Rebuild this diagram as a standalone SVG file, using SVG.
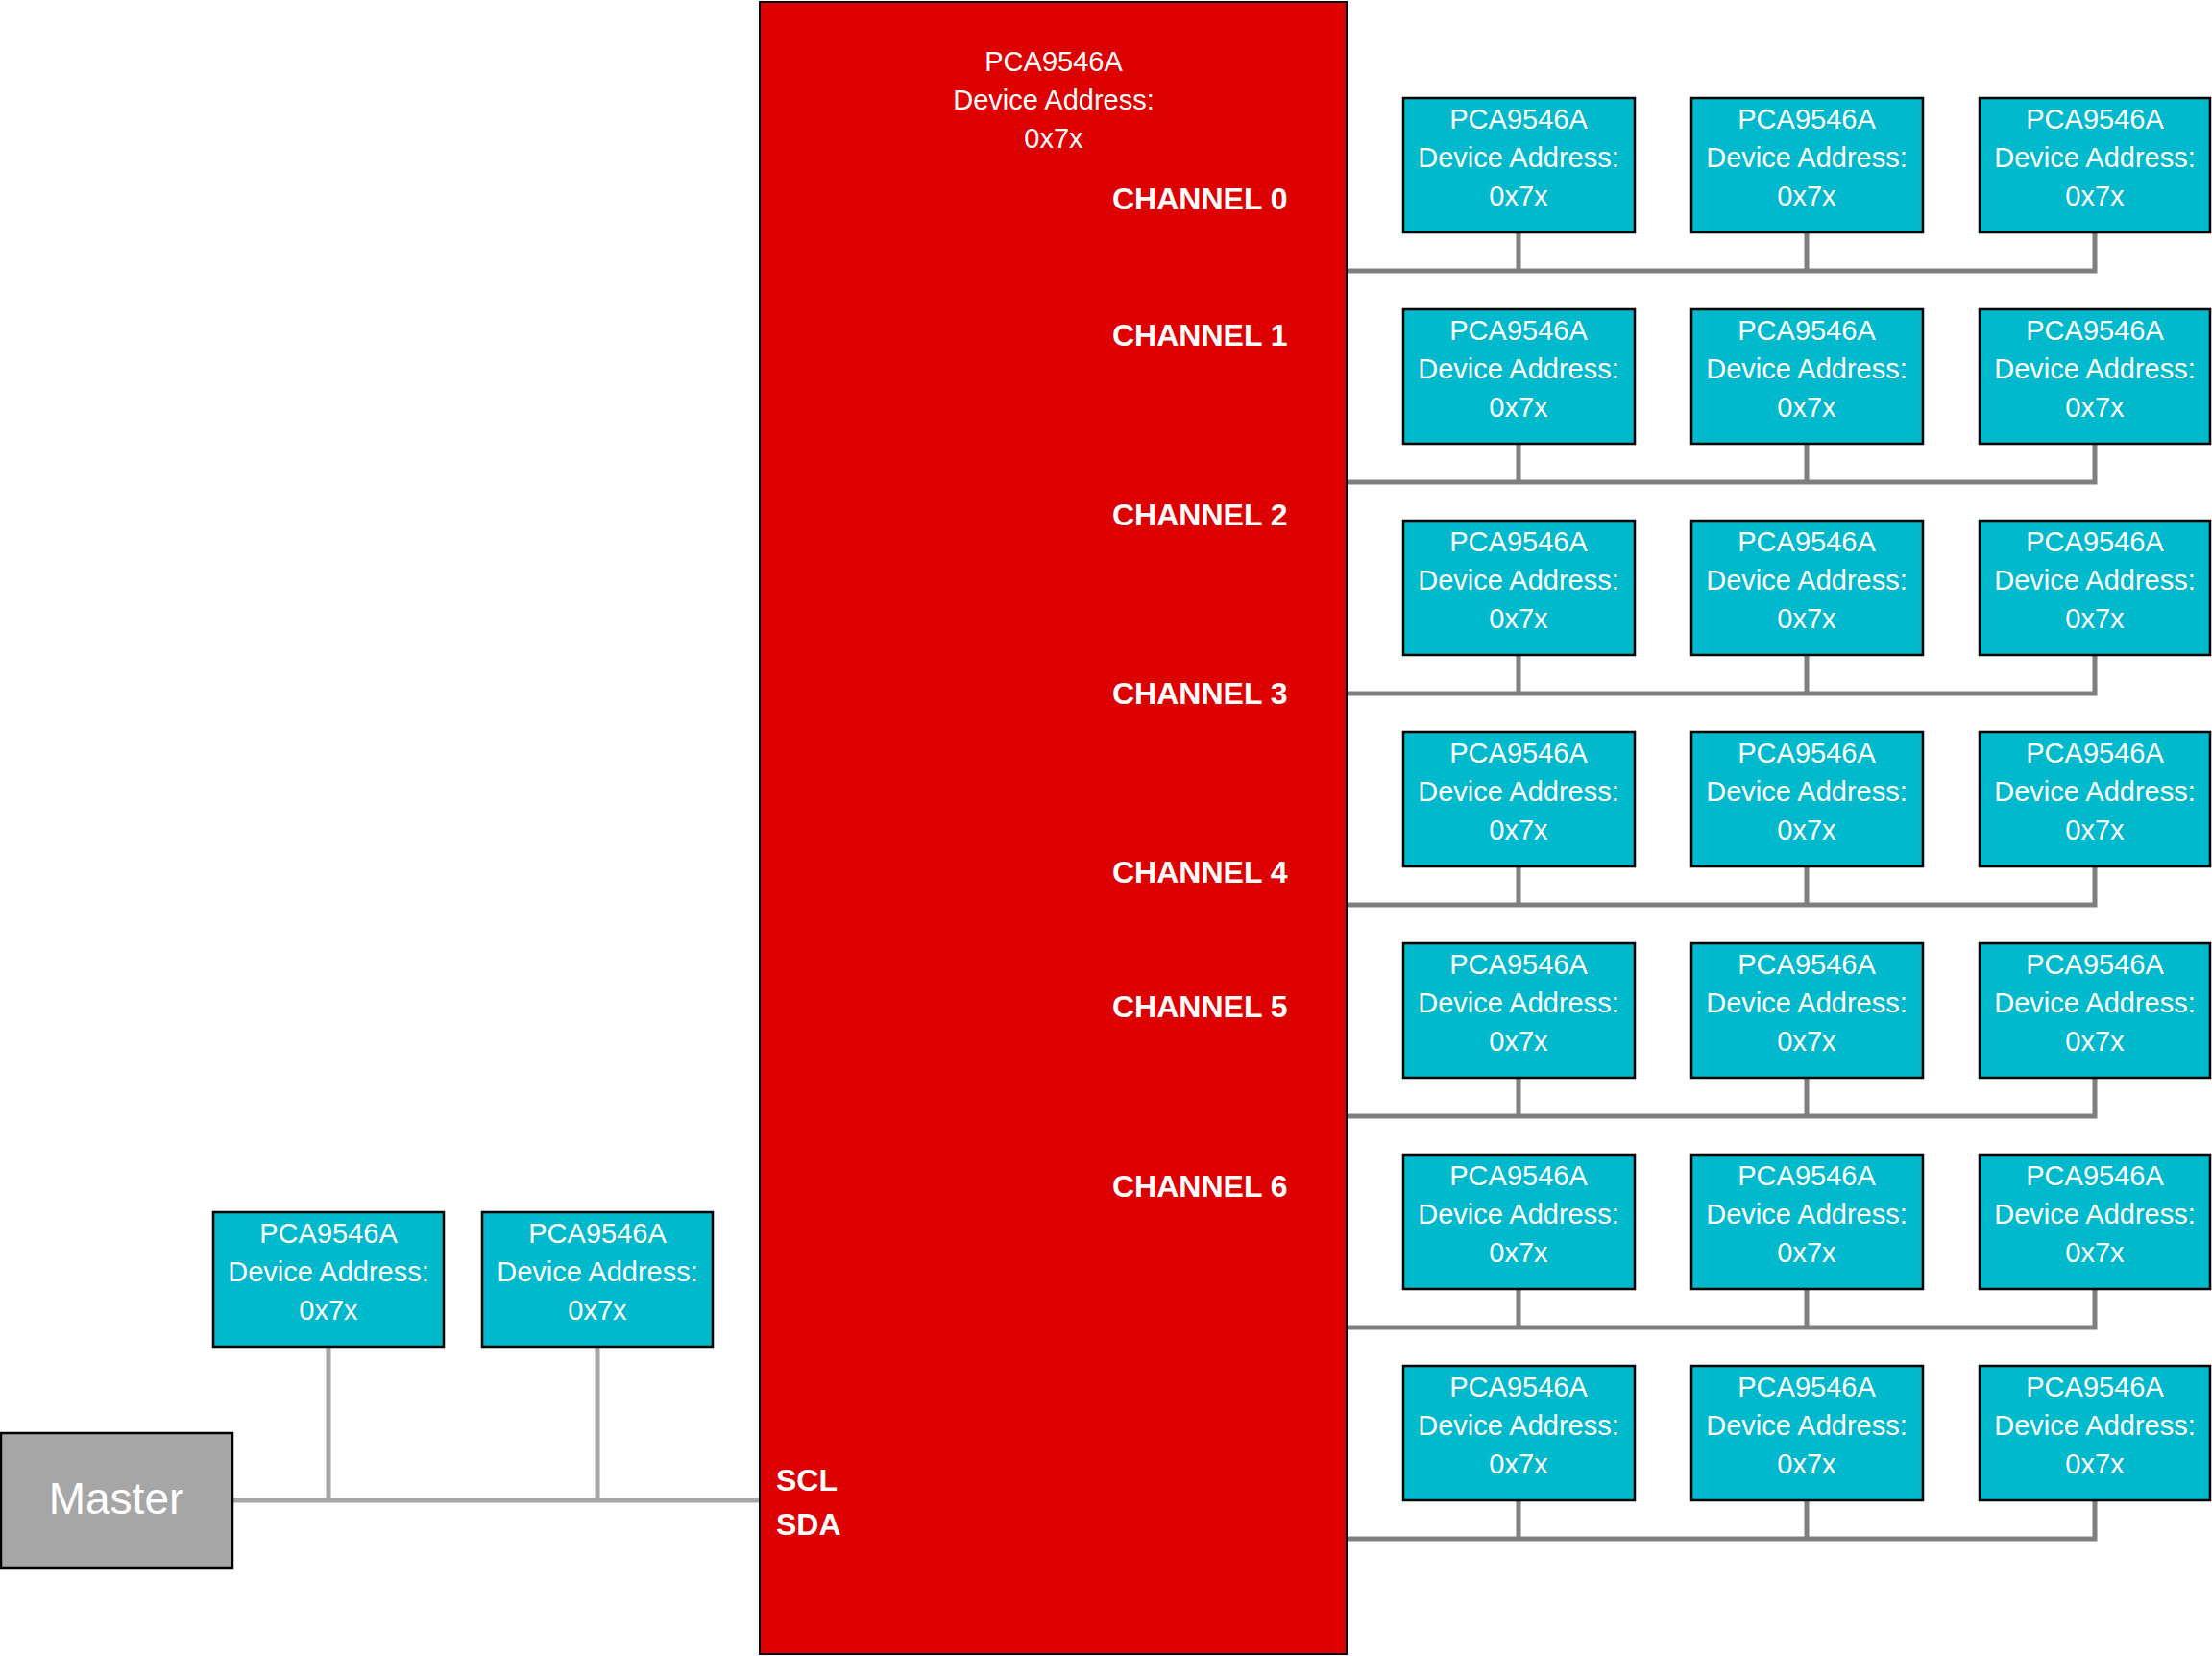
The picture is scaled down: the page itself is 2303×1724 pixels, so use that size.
<svg xmlns="http://www.w3.org/2000/svg" width="2303" height="1724" viewBox="0 0 2303 1724">
<style>
.dev{fill:#00B9CC;stroke:#000;stroke-width:2.5}
.dt{font-family:"Liberation Sans",Arial,sans-serif;font-size:29px;fill:#fff;text-anchor:middle}
.ch{font-family:"Liberation Sans",Arial,sans-serif;font-size:32px;font-weight:bold;fill:#fff}
.busR{fill:none;stroke:#7F7F7F;stroke-width:5}
.busL{fill:none;stroke:#A6A6A6;stroke-width:5}
</style>
<rect width="2303" height="1724" fill="#fff"/>
<g id="connectors">
<path class="busR" d="M1401,282 H2181 V242 M1581,282 V242 M1881,282 V242"/>
<path class="busR" d="M1401,502 H2181 V462 M1581,502 V462 M1881,502 V462"/>
<path class="busR" d="M1401,722 H2181 V682 M1581,722 V682 M1881,722 V682"/>
<path class="busR" d="M1401,942 H2181 V902 M1581,942 V902 M1881,942 V902"/>
<path class="busR" d="M1401,1162 H2181 V1122 M1581,1162 V1122 M1881,1162 V1122"/>
<path class="busR" d="M1401,1382 H2181 V1342 M1581,1382 V1342 M1881,1382 V1342"/>
<path class="busR" d="M1401,1602 H2181 V1562 M1581,1602 V1562 M1881,1602 V1562"/>
<path class="busL" d="M242,1562 H791 M342,1562 V1402 M622,1562 V1402"/>
</g>
<g id="mux">
<rect x="791" y="2" width="611" height="1720" fill="#DD0000" stroke="#000" stroke-width="2"/>
<text class="dt" x="1097" y="74">PCA9546A</text>
<text class="dt" x="1097" y="114">Device Address:</text>
<text class="dt" x="1097" y="154">0x7x</text>
<text class="ch" x="1158" y="218">CHANNEL 0</text>
<text class="ch" x="1158" y="360">CHANNEL 1</text>
<text class="ch" x="1158" y="547">CHANNEL 2</text>
<text class="ch" x="1158" y="733">CHANNEL 3</text>
<text class="ch" x="1158" y="919">CHANNEL 4</text>
<text class="ch" x="1158" y="1059">CHANNEL 5</text>
<text class="ch" x="1158" y="1246">CHANNEL 6</text>
<text class="ch" x="808" y="1552">SCL</text>
<text class="ch" x="808" y="1598">SDA</text>
</g>
<g id="master">
<rect x="1" y="1492" width="241" height="140" fill="#A6A6A6" stroke="#000" stroke-width="2.5"/>
<text x="121" y="1576" font-family="Liberation Sans,Arial,sans-serif" font-size="46" fill="#fff" text-anchor="middle">Master</text>
</g>
<g id="devL1"><rect class="dev" x="222" y="1262" width="240" height="140"/><text class="dt" x="342" y="1294">PCA9546A</text><text class="dt" x="342" y="1334">Device Address:</text><text class="dt" x="342" y="1374">0x7x</text></g>
<g id="devL2"><rect class="dev" x="502" y="1262" width="240" height="140"/><text class="dt" x="622" y="1294">PCA9546A</text><text class="dt" x="622" y="1334">Device Address:</text><text class="dt" x="622" y="1374">0x7x</text></g>
<g id="dev0a"><rect class="dev" x="1461" y="102" width="241" height="140"/><text class="dt" x="1581" y="134">PCA9546A</text><text class="dt" x="1581" y="174">Device Address:</text><text class="dt" x="1581" y="214">0x7x</text></g>
<g id="dev0b"><rect class="dev" x="1761" y="102" width="241" height="140"/><text class="dt" x="1881" y="134">PCA9546A</text><text class="dt" x="1881" y="174">Device Address:</text><text class="dt" x="1881" y="214">0x7x</text></g>
<g id="dev0c"><rect class="dev" x="2061" y="102" width="240" height="140"/><text class="dt" x="2181" y="134">PCA9546A</text><text class="dt" x="2181" y="174">Device Address:</text><text class="dt" x="2181" y="214">0x7x</text></g>
<g id="dev1a"><rect class="dev" x="1461" y="322" width="241" height="140"/><text class="dt" x="1581" y="354">PCA9546A</text><text class="dt" x="1581" y="394">Device Address:</text><text class="dt" x="1581" y="434">0x7x</text></g>
<g id="dev1b"><rect class="dev" x="1761" y="322" width="241" height="140"/><text class="dt" x="1881" y="354">PCA9546A</text><text class="dt" x="1881" y="394">Device Address:</text><text class="dt" x="1881" y="434">0x7x</text></g>
<g id="dev1c"><rect class="dev" x="2061" y="322" width="240" height="140"/><text class="dt" x="2181" y="354">PCA9546A</text><text class="dt" x="2181" y="394">Device Address:</text><text class="dt" x="2181" y="434">0x7x</text></g>
<g id="dev2a"><rect class="dev" x="1461" y="542" width="241" height="140"/><text class="dt" x="1581" y="574">PCA9546A</text><text class="dt" x="1581" y="614">Device Address:</text><text class="dt" x="1581" y="654">0x7x</text></g>
<g id="dev2b"><rect class="dev" x="1761" y="542" width="241" height="140"/><text class="dt" x="1881" y="574">PCA9546A</text><text class="dt" x="1881" y="614">Device Address:</text><text class="dt" x="1881" y="654">0x7x</text></g>
<g id="dev2c"><rect class="dev" x="2061" y="542" width="240" height="140"/><text class="dt" x="2181" y="574">PCA9546A</text><text class="dt" x="2181" y="614">Device Address:</text><text class="dt" x="2181" y="654">0x7x</text></g>
<g id="dev3a"><rect class="dev" x="1461" y="762" width="241" height="140"/><text class="dt" x="1581" y="794">PCA9546A</text><text class="dt" x="1581" y="834">Device Address:</text><text class="dt" x="1581" y="874">0x7x</text></g>
<g id="dev3b"><rect class="dev" x="1761" y="762" width="241" height="140"/><text class="dt" x="1881" y="794">PCA9546A</text><text class="dt" x="1881" y="834">Device Address:</text><text class="dt" x="1881" y="874">0x7x</text></g>
<g id="dev3c"><rect class="dev" x="2061" y="762" width="240" height="140"/><text class="dt" x="2181" y="794">PCA9546A</text><text class="dt" x="2181" y="834">Device Address:</text><text class="dt" x="2181" y="874">0x7x</text></g>
<g id="dev4a"><rect class="dev" x="1461" y="982" width="241" height="140"/><text class="dt" x="1581" y="1014">PCA9546A</text><text class="dt" x="1581" y="1054">Device Address:</text><text class="dt" x="1581" y="1094">0x7x</text></g>
<g id="dev4b"><rect class="dev" x="1761" y="982" width="241" height="140"/><text class="dt" x="1881" y="1014">PCA9546A</text><text class="dt" x="1881" y="1054">Device Address:</text><text class="dt" x="1881" y="1094">0x7x</text></g>
<g id="dev4c"><rect class="dev" x="2061" y="982" width="240" height="140"/><text class="dt" x="2181" y="1014">PCA9546A</text><text class="dt" x="2181" y="1054">Device Address:</text><text class="dt" x="2181" y="1094">0x7x</text></g>
<g id="dev5a"><rect class="dev" x="1461" y="1202" width="241" height="140"/><text class="dt" x="1581" y="1234">PCA9546A</text><text class="dt" x="1581" y="1274">Device Address:</text><text class="dt" x="1581" y="1314">0x7x</text></g>
<g id="dev5b"><rect class="dev" x="1761" y="1202" width="241" height="140"/><text class="dt" x="1881" y="1234">PCA9546A</text><text class="dt" x="1881" y="1274">Device Address:</text><text class="dt" x="1881" y="1314">0x7x</text></g>
<g id="dev5c"><rect class="dev" x="2061" y="1202" width="240" height="140"/><text class="dt" x="2181" y="1234">PCA9546A</text><text class="dt" x="2181" y="1274">Device Address:</text><text class="dt" x="2181" y="1314">0x7x</text></g>
<g id="dev6a"><rect class="dev" x="1461" y="1422" width="241" height="140"/><text class="dt" x="1581" y="1454">PCA9546A</text><text class="dt" x="1581" y="1494">Device Address:</text><text class="dt" x="1581" y="1534">0x7x</text></g>
<g id="dev6b"><rect class="dev" x="1761" y="1422" width="241" height="140"/><text class="dt" x="1881" y="1454">PCA9546A</text><text class="dt" x="1881" y="1494">Device Address:</text><text class="dt" x="1881" y="1534">0x7x</text></g>
<g id="dev6c"><rect class="dev" x="2061" y="1422" width="240" height="140"/><text class="dt" x="2181" y="1454">PCA9546A</text><text class="dt" x="2181" y="1494">Device Address:</text><text class="dt" x="2181" y="1534">0x7x</text></g>
</svg>
